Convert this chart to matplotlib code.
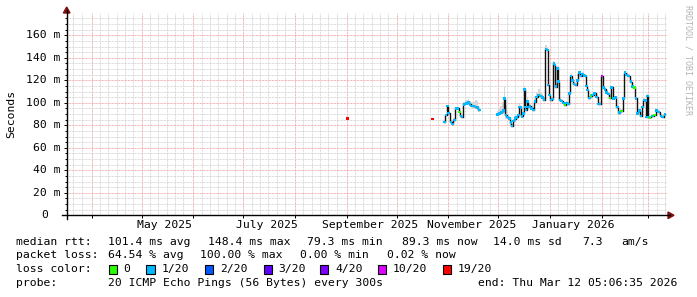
import matplotlib
matplotlib.use("Agg")
import matplotlib.pyplot as plt
import matplotlib.dates as mdates
from matplotlib.lines import Line2D
from matplotlib.patches import Rectangle, Polygon
from matplotlib.transforms import blended_transform_factory
import numpy as np
import pandas as pd

# time window: smokeping "last 360 days"
end_time = pd.Timestamp("2026-03-12 05:06:35")
start_time = end_time - pd.Timedelta(days=360)

# median rtt samples (ms), loss colour index, smoke spread (ms)
dates = [
    "2025-09-01 12:00", "2025-10-22 15:00",
    "2025-10-29 14:00", "2025-10-30 15:00", "2025-10-31 15:00", "2025-11-01 06:00",
    "2025-11-02 11:00", "2025-11-03 15:00", "2025-11-04 14:00", "2025-11-06 01:00",
    "2025-11-06 20:00", "2025-11-07 14:00", "2025-11-08 11:00", "2025-11-09 05:00",
    "2025-11-10 10:00", "2025-11-12 01:00", "2025-11-13 00:00", "2025-11-14 00:00",
    "2025-11-15 01:00", "2025-11-16 00:00", "2025-11-17 11:00", "2025-11-18 10:00",
    "2025-11-19 14:00",
    "2025-11-30 10:00", "2025-12-01 14:00", "2025-12-02 19:00", "2025-12-04 00:00",
    "2025-12-04 20:00", "2025-12-05 11:00", "2025-12-06 15:00", "2025-12-07 14:00",
    "2025-12-08 11:00", "2025-12-09 05:00", "2025-12-10 00:00", "2025-12-11 00:00",
    "2025-12-12 01:00", "2025-12-13 00:00", "2025-12-13 14:00", "2025-12-14 11:00",
    "2025-12-15 05:00", "2025-12-16 00:00", "2025-12-16 14:00", "2025-12-17 05:00",
    "2025-12-17 15:00", "2025-12-18 10:00", "2025-12-19 06:00", "2025-12-20 00:00",
    "2025-12-21 01:00", "2025-12-22 00:00", "2025-12-23 00:00", "2025-12-24 01:00",
    "2025-12-25 06:00", "2025-12-26 11:00", "2025-12-27 15:00", "2025-12-28 10:00",
    "2025-12-29 11:00", "2025-12-30 10:00", "2025-12-30 20:00", "2025-12-31 14:00",
    "2026-01-01 11:00", "2026-01-02 10:00", "2026-01-03 10:00", "2026-01-04 00:00",
    "2026-01-04 15:00", "2026-01-05 10:00", "2026-01-06 06:00", "2026-01-07 00:00",
    "2026-01-08 01:00", "2026-01-09 00:00", "2026-01-10 00:00", "2026-01-11 01:00",
    "2026-01-12 00:00", "2026-01-12 14:00", "2026-01-13 15:00", "2026-01-14 10:00",
    "2026-01-15 10:00", "2026-01-16 11:00", "2026-01-17 10:00", "2026-01-18 14:00",
    "2026-01-19 11:00", "2026-01-20 10:00", "2026-01-21 10:00", "2026-01-22 05:00",
    "2026-01-23 01:00", "2026-01-23 15:00", "2026-01-24 14:00", "2026-01-25 11:00",
    "2026-01-26 15:00", "2026-01-27 20:00", "2026-01-29 01:00", "2026-01-30 00:00",
    "2026-01-31 00:00", "2026-02-01 05:00", "2026-02-02 00:00", "2026-02-03 00:00",
    "2026-02-04 01:00", "2026-02-05 00:00", "2026-02-06 00:00", "2026-02-07 01:00",
    "2026-02-08 00:00", "2026-02-09 05:00", "2026-02-10 10:00", "2026-02-11 14:00",
    "2026-02-13 01:00", "2026-02-14 00:00", "2026-02-15 00:00", "2026-02-16 01:00",
    "2026-02-17 06:00", "2026-02-18 11:00", "2026-02-19 15:00", "2026-02-20 14:00",
    "2026-02-21 15:00", "2026-02-22 15:00", "2026-02-23 14:00", "2026-02-24 15:00",
    "2026-02-25 10:00", "2026-02-26 10:00", "2026-02-27 05:00", "2026-02-27 19:00",
    "2026-02-28 15:00", "2026-03-01 06:00", "2026-03-02 00:00", "2026-03-03 15:00",
    "2026-03-04 20:00", "2026-03-06 01:00", "2026-03-07 06:00", "2026-03-08 11:00",
    "2026-03-09 15:00", "2026-03-11 00:00",
]
median_ms = [
    86.0, 85.6,
    82.9, 89.0, 97.0, 91.0, 83.0, 81.0, 84.7, 95.0, 95.0, 92.0, 88.2, 87.6,
    98.6, 99.5, 100.4, 98.6, 97.4, 97.1, 96.5, 96.0, 93.6,
    89.7, 90.6, 91.5, 93.0, 103.7, 89.0, 87.6, 86.2, 82.3, 79.3, 84.0, 86.0,
    87.0, 89.0, 96.5, 96.0, 88.0, 90.6, 112.0, 96.5, 93.6, 101.0, 96.5, 97.1,
    95.0, 93.6, 101.0, 105.4, 107.0, 106.0, 104.9, 102.5, 148.0, 147.0, 115.9,
    107.0, 102.5, 103.4, 135.0, 133.7, 114.4, 130.7, 118.8, 102.5, 101.6, 100.0,
    98.0, 100.0, 99.0, 108.5, 124.0, 120.0, 116.8, 115.9, 120.0, 126.8, 124.0,
    125.7, 124.5, 124.0, 115.0, 111.4, 104.5, 106.3, 107.0, 108.5, 105.4, 99.0,
    99.0, 124.0, 113.8, 112.0, 109.0, 107.8, 104.5, 113.8, 104.0, 104.9, 96.5,
    91.2, 92.7, 104.0, 126.8, 124.8, 124.0, 118.8, 114.4, 113.8, 104.0, 90.6,
    93.0, 88.2, 96.5, 102.5, 101.9, 87.6, 106.0, 87.6, 87.0, 88.2, 89.0, 93.0,
    92.0, 88.5, 87.6, 89.7,
]
loss_idx = [
    6, 6,
    1, 1, 1, 1, 1, 1, 1, 1, 1, 0, 1, 1, 1, 1, 1, 1, 1, 1, 1, 1, 1,
    1, 1, 1, 1, 1, 1, 1, 1, 1, 1, 1, 1, 1, 1, 1, 1, 1, 1, 1, 1, 1, 1, 1, 1,
    1, 1, 1, 1, 1, 1, 1, 1, 1, 1, 1, 1, 1, 1, 1, 1, 1, 1, 1, 1, 1, 1,
    0, 1, 1, 1, 1, 1, 1, 1, 1, 1, 1, 1, 1, 1, 1, 1, 1, 0, 1, 1, 1, 1,
    1, 5, 1, 1, 1, 1, 0, 1, 1, 1, 1, 1, 0, 1, 1, 1, 1, 1, 1, 0, 1, 1,
    1, 1, 1, 1, 1, 1, 1, 1, 0, 1, 0, 1, 1, 1, 1, 1,
]
smoke_ms = [
    3, 3,
    1.5, 1.5, 1.5, 1.5, 1.5, 1.5, 1.5, 1.5, 1.5, 1.5, 1.5, 1.5,
    2, 3, 3, 3, 3, 4, 6, 6, 4,
    3, 5, 6, 8, 10, 8, 4, 2, 2, 2, 2, 2, 2, 2, 3, 2, 2, 2, 3, 2, 2, 3, 2, 2,
    2, 2, 3, 4, 5, 4, 3, 2, 3, 2, 2, 2, 2, 2, 2, 2, 2, 2, 2, 2, 1.5, 1.5,
    1.5, 1.5, 1.5, 1.5, 1.5, 1.5, 1.5, 1.5, 1.5, 1.5, 1.5, 1.5, 1.5, 1.5, 1.5,
    1.5, 1.5, 1.5, 1.5, 1.5, 1.5, 1.5, 1.5, 1.5, 1.5, 1.5, 1.5, 1.5, 1.5, 1.5,
    1.5, 1.5, 1.5, 1.5, 1.5, 1.5, 1.5, 1.5, 1.5, 1.5, 1.5, 1.5, 1.5, 1.5, 1.5,
    1.5, 1.5, 1.5, 1.5, 1.5, 1.5, 1.5, 1.5, 1.5, 1.5, 1.5, 1.5, 1.5, 1.5, 1.5,
    1.5, 1.5,
]

loss_labels = ["0", "1/20", "2/20", "3/20", "4/20", "10/20", "19/20"]
loss_colors = ["#26ff00", "#00b8ff", "#0059ff", "#5e00ff", "#7e00ff", "#dd00ff", "#ff0000"]

y_ticks = [0, 20, 40, 60, 80, 100, 120, 140, 160]
month_labels = ["May 2025", "July 2025", "September 2025", "November 2025", "January 2026"]
month_starts = ["2025-05-01", "2025-07-01", "2025-09-01", "2025-11-01", "2026-01-01"]

stats_rtt = [("median rtt:", 16.4), ("101.4 ms avg", 107.6), ("148.4 ms max", 207.5),
             ("79.3 ms min", 306.7), ("89.3 ms now", 402.0), ("14.0 ms sd", 493.3),
             ("7.3", 582.2), ("am/s", 621.3)]
stats_loss = [("packet loss:", 16.4), ("64.54 % avg", 107.6), ("100.00 % max", 200.0),
              ("0.00 % min", 300.5), ("0.02 % now", 386.7)]
probe_line = [("probe:", 16.4), ("20 ICMP Echo Pings (56 Bytes) every 300s", 107.6),
              ("end: Thu Mar 12 05:06:35 2026", 477.8)]

W, H = 697, 297
MONO = "DejaVu Sans Mono"
FS = 8.2

fig = plt.figure(figsize=(W / 100, H / 100), dpi=100)
fig.patch.set_facecolor("white")
ax = fig.add_axes([67 / W, (H - 215.3) / H, 600 / W, 202 / H])
ax.set_xlim(start_time.to_datetime64(), end_time.to_datetime64())
ax.set_ylim(0, 179.6)
for s in ax.spines.values():
    s.set_visible(False)

# grid: red at month starts, grey every five days
ax.xaxis.set_major_locator(mdates.MonthLocator(bymonthday=1))
ax.xaxis.set_minor_locator(mdates.DayLocator(bymonthday=[6, 11, 16, 21, 26]))
ax.set_yticks(y_ticks)
ax.set_yticks(np.arange(0, 180, 5), minor=True)
dots = (0, (0.72, 0.72))
ax.grid(which="minor", color="#cfcfcf", linestyle=dots, linewidth=0.72)
ax.grid(which="major", color="#f09a9a", linestyle=dots, linewidth=0.72)
ax.tick_params(which="both", labelbottom=False, labelleft=False, direction="out",
               color="black", width=0.7)
ax.tick_params(which="major", length=2.5)
ax.tick_params(axis="y", which="minor", length=1.5)
ax.tick_params(axis="x", which="minor", length=0)

# data, split into runs where samples are contiguous
t = pd.to_datetime(dates).to_numpy()
med = np.array(median_ms)
smk = np.array(smoke_ms)
gaps = np.where(np.diff(t) > np.timedelta64(3, "D"))[0] + 1
for seg in np.split(np.arange(len(t)), gaps):
    ax.fill_between(t[seg], med[seg] - 0.4 * smk[seg], med[seg] + smk[seg],
                    step="mid", color="#d6d6d6", linewidth=0, zorder=2)
    ax.plot(t[seg], med[seg], drawstyle="steps-mid", color="#111111",
            linewidth=1.0, zorder=3)
ax.scatter(t, med, c=[loss_colors[i] for i in loss_idx], marker="s", s=3.2,
           linewidths=0, zorder=4)

# axis lines with arrows
y0 = (H - 215.3) / H
x0 = 66.7 / W
fig.add_artist(Line2D([62 / W, 670 / W], [y0, y0], color="black", lw=1.0))
fig.add_artist(Line2D([x0, x0], [(H - 219) / H, (H - 10) / H], color="black", lw=1.0))
fig.add_artist(Polygon([[668 / W, (H - 212) / H], [674 / W, y0], [668 / W, (H - 218.6) / H]],
                       closed=True, color="#7f1010", transform=fig.transFigure))
fig.add_artist(Polygon([[(66.7 - 3.3) / W, (H - 13) / H], [x0, (H - 7) / H],
                        [(66.7 + 3.3) / W, (H - 13) / H]],
                       closed=True, color="#7f1010", transform=fig.transFigure))

# y labels
ytr = blended_transform_factory(fig.transFigure, ax.transData)
for v in y_ticks:
    if v == 0:
        ax.text(47.7 / W, v, "0", transform=ytr, ha="right", va="center",
                family=MONO, fontsize=FS)
    else:
        ax.text(60.3 / W, v, f"{v} m", transform=ytr, ha="right", va="center",
                family=MONO, fontsize=FS)
fig.text(11 / W, 1 - 114 / H, "Seconds", rotation=90, ha="center", va="center",
         family=MONO, fontsize=FS)

# x labels, centred half a month after the month start
xtr = blended_transform_factory(ax.transData, fig.transFigure)
for lab, d in zip(month_labels, month_starts):
    xd = (pd.Timestamp(d) + pd.Timedelta(days=14)).to_datetime64()
    ax.text(xd, 1 - 225 / H, lab, transform=xtr, ha="center", va="center",
            family=MONO, fontsize=FS)

# watermark
fig.text(688 / W, 1 - 5 / H, "RRDTOOL / TOBI OETIKER", rotation=270, ha="center",
         va="top", family=MONO, fontsize=6, color="#b4b4b4")

# legend block
for lab, x in stats_rtt:
    fig.text(x / W, 1 - 241.7 / H, lab, ha="left", va="center", family=MONO, fontsize=FS)
for lab, x in stats_loss:
    fig.text(x / W, 1 - 255.3 / H, lab, ha="left", va="center", family=MONO, fontsize=FS)
fig.text(16.4 / W, 1 - 269.3 / H, "loss color:", ha="left", va="center", family=MONO, fontsize=FS)
box_x = [108.5, 146.3, 205.0, 263.5, 320.0, 377.8, 443.1]
for lab, col, bx in zip(loss_labels, loss_colors, box_x):
    fig.add_artist(Rectangle((bx / W, (H - 273.5) / H), 8.3 / W, 8.5 / H,
                             facecolor=col, edgecolor="black", linewidth=0.8,
                             transform=fig.transFigure))
    fig.text((bx + 15) / W, 1 - 269.3 / H, lab, ha="left", va="center",
             family=MONO, fontsize=FS)
for lab, x in probe_line:
    fig.text(x / W, 1 - 283.3 / H, lab, ha="left", va="center", family=MONO, fontsize=FS)

fig.savefig("out.png", dpi=100)
